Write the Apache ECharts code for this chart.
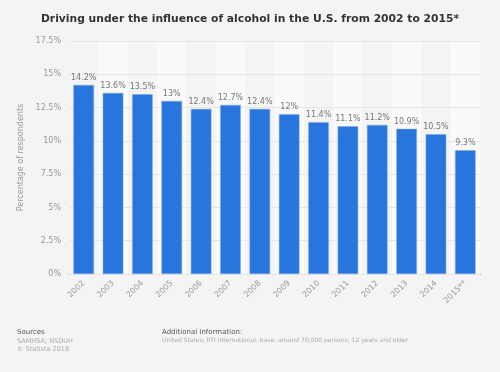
<!DOCTYPE html>
<html><head><meta charset="utf-8">
<script src="https://cdn.jsdelivr.net/npm/echarts@6/dist/echarts.min.js"></script>
<style>html,body{margin:0;padding:0;background:#f4f4f4;}#c{width:500px;height:372px;}</style>
</head><body><div id="c"></div>
<script>
var categories = ['2002','2003','2004','2005','2006','2007','2008','2009','2010','2011','2012','2013','2014','2015**'];
var values = [14.2,13.6,13.5,13,12.4,12.7,12.4,12,11.4,11.1,11.2,10.9,10.5,9.3];
var yTicks = [0,2.5,5,7.5,10,12.5,15,17.5];
var F = 'DejaVu Sans, sans-serif';
var chart = echarts.init(document.getElementById('c'));
chart.setOption({
  backgroundColor:'#f4f4f4',
  animation:false,
  title:{text:'Driving under the influence of alcohol in the U.S. from 2002 to 2015*',left:'center',top:9,
    textStyle:{fontFamily:F,fontSize:10.75,fontWeight:'bold',color:'#333'}},
  grid:{left:69,right:20,top:41,bottom:98},
  xAxis:{type:'category',data:categories,z:0,
    axisLine:{lineStyle:{color:'#555',width:1}},axisTick:{show:false},
    axisLabel:{rotate:45,fontFamily:F,fontSize:8,color:'#999',margin:8,interval:0},
    splitArea:{show:true,areaStyle:{color:['#f4f4f4','#fafafa']}}},
  yAxis:{type:'value',min:yTicks[0],max:yTicks[yTicks.length-1],interval:2.5,z:3,
    name:'Percentage of respondents',nameLocation:'middle',nameGap:36,
    nameTextStyle:{fontFamily:F,fontSize:8,color:'#999'},
    axisLabel:{fontFamily:F,fontSize:8,color:'#999',formatter:function(v){return v+'%';}},
    axisLine:{show:false},axisTick:{show:false},
    splitLine:{lineStyle:{color:'#e6e6e6',width:1}}},
  series:[{type:'bar',data:values,barWidth:'70%',z:5,
    itemStyle:{color:'#2876dd',borderColor:'#7fa9e8',borderWidth:0.5},
    label:{show:true,position:'top',distance:3,fontFamily:F,fontSize:8,color:'#777',formatter:function(p){return p.value+'%';}}}],
  graphic:[
    {type:'text',left:17,top:329,style:{text:'Sources',font:'7px DejaVu Sans',fill:'#555'}},
    {type:'text',left:17,top:337,style:{text:'SAMHSA; NSDUH\n© Statista 2018',font:'6.5px DejaVu Sans',fill:'#aaa',lineHeight:8}},
    {type:'text',left:162,top:329,style:{text:'Additional Information:',font:'7px DejaVu Sans',fill:'#555'}},
    {type:'text',left:162,top:337,style:{text:'United States; RTI International; base: around 70,000 persons; 12 years and older',font:'6px DejaVu Sans',fill:'#aaa'}}
  ]
});
</script></body></html>
